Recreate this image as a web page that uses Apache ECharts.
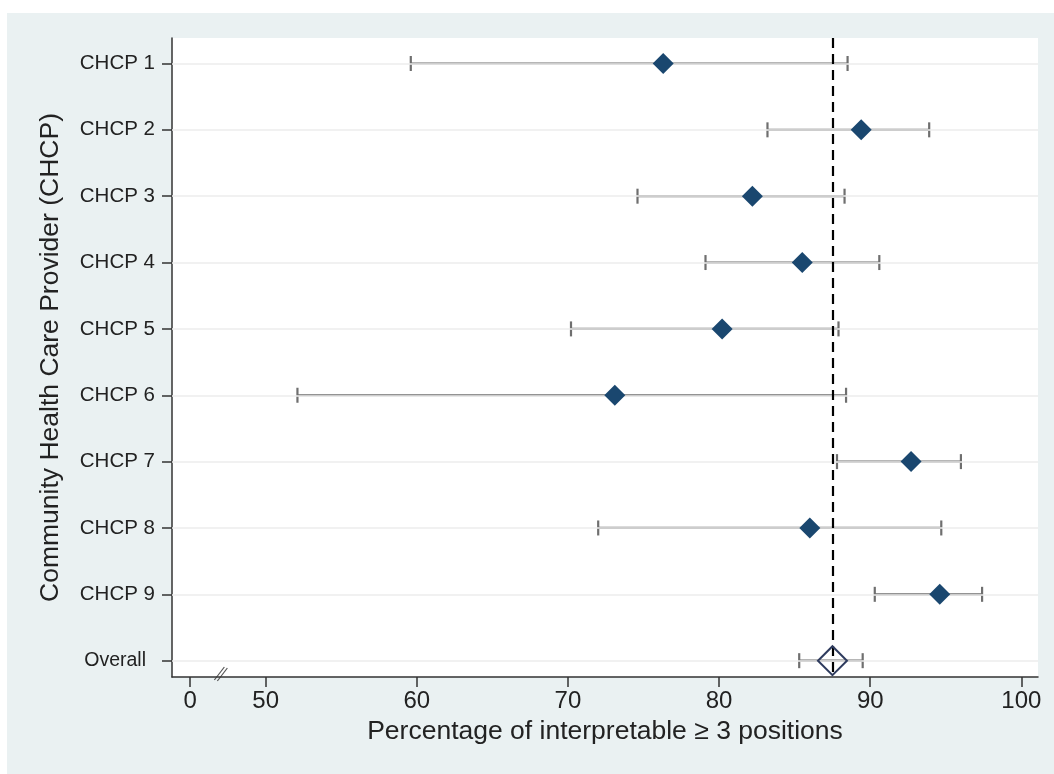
<!DOCTYPE html>
<html>
<head>
<meta charset="utf-8">
<script src="https://cdn.jsdelivr.net/npm/echarts@6/dist/echarts.min.js"></script>
<style>
  html, body { margin: 0; padding: 0; background: #fff; }
  #chart { width: 1054px; height: 774px; }
</style>
</head>
<body>
<div id="chart"></div>
<script>
// providers, top to bottom
const categories = ['CHCP 1', 'CHCP 2', 'CHCP 3', 'CHCP 4', 'CHCP 5', 'CHCP 6', 'CHCP 7', 'CHCP 8', 'CHCP 9', 'Overall'];
const estimates = [76.3, 89.4, 82.2, 85.5, 80.2, 73.1, 92.7, 86.0, 94.6, 87.5];
const lower = [59.6, 83.2, 74.6, 79.1, 70.2, 52.1, 87.8, 72.0, 90.3, 85.3];
const upper = [88.5, 93.9, 88.3, 90.6, 87.9, 88.4, 96.0, 94.7, 97.4, 89.5];
const pooled = 87.5;

// broken x axis: "0" sits just left of the break
const xTickValues = [45, 50, 60, 70, 80, 90, 100];
const xTickLabels = ['0', '50', '60', '70', '80', '90', '100'];
const breakAt = 47;

const rows = categories.map((c, i) => i + 1);
const nProv = categories.length - 1;

const chart = echarts.init(document.getElementById('chart'));

const textColor = '#222';
const navy = '#1a476f';

const option = {
  backgroundColor: '#fff',
  animation: false,
  textStyle: { fontFamily: 'Liberation Sans, Arial, sans-serif' },
  graphic: [{
    type: 'rect', z: -10, silent: true,
    shape: { x: 7, y: 13, width: 1047, height: 761 },
    style: { fill: '#eaf1f2' }
  }],
  grid: {
    left: 172, right: 16, top: 38, bottom: 97,
    show: true, backgroundColor: '#fff', borderWidth: 0
  },
  xAxis: {
    type: 'value', min: 43.8, max: 101.1,
    name: 'Percentage of interpretable \u2265 3 positions',
    nameLocation: 'middle', nameGap: 41,
    nameTextStyle: { fontSize: 26.5, color: textColor },
    axisLine: { lineStyle: { color: '#333', width: 1.5 } },
    axisTick: { customValues: xTickValues, length: 10, lineStyle: { color: '#333', width: 1.5 } },
    axisLabel: {
      customValues: xTickValues, fontSize: 24, color: textColor, margin: 12,
      formatter: v => xTickLabels[xTickValues.indexOf(v)]
    },
    splitLine: { show: false }
  },
  yAxis: {
    type: 'value', inverse: true, min: 0.616, max: 10.246,
    name: 'Community Health Care Provider (CHCP)',
    nameLocation: 'middle', nameGap: 108, nameRotate: 90,
    nameTextStyle: { fontSize: 26.5, color: textColor },
    axisLine: { lineStyle: { color: '#333', width: 1.5 } },
    axisTick: { customValues: rows, length: 10, lineStyle: { color: '#333', width: 1.5 } },
    axisLabel: {
      customValues: rows, fontSize: 20.5, color: textColor, margin: 17,
      formatter: v => (v === rows.length ? '{o|' + categories[v - 1] + '}' : categories[v - 1]),
      rich: { o: { fontSize: 19.5, color: textColor, padding: [0, 9, 0, 0] } }
    },
    splitLine: { show: false }
  },
  series: [
    {
      // row gridlines
      type: 'scatter', data: [], silent: true, z: 1,
      markLine: {
        silent: true, symbol: 'none', label: { show: false },
        lineStyle: { color: '#ececec', width: 1.5, type: 'solid' },
        data: rows.map(r => ({ yAxis: r }))
      }
    },
    {
      type: 'custom', z: 3,
      data: categories.map((c, i) => [rows[i], lower[i], upper[i]]),
      renderItem: (params, api) => {
        const y = api.value(0);
        const a = api.coord([api.value(1), y]);
        const b = api.coord([api.value(2), y]);
        const h = 7.5;
        const st = { stroke: '#6f6f6f', lineWidth: 2.2 };
        return {
          type: 'group',
          children: [
            { type: 'line', shape: { x1: a[0], y1: a[1], x2: b[0], y2: b[1] }, style: st },
            { type: 'line', shape: { x1: a[0], y1: a[1] - h, x2: a[0], y2: a[1] + h }, style: st },
            { type: 'line', shape: { x1: b[0], y1: b[1] - h, x2: b[0], y2: b[1] + h }, style: st }
          ]
        };
      }
    },
    {
      // pooled reference line
      type: 'scatter', data: [], silent: true, z: 4,
      markLine: {
        silent: true, symbol: 'none', label: { show: false },
        lineStyle: { color: '#000', width: 2.2, type: [10, 6] },
        data: [{ xAxis: pooled }]
      }
    },
    {
      type: 'scatter', z: 5, symbol: 'diamond', symbolSize: 21,
      itemStyle: { color: navy, opacity: 1 },
      data: estimates.slice(0, nProv).map((v, i) => [v, rows[i]])
    },
    {
      type: 'scatter', z: 5, symbol: 'diamond', symbolSize: 29,
      itemStyle: { color: 'rgba(0,0,0,0)', borderColor: '#2e3b5e', borderWidth: 2, opacity: 1 },
      data: [[estimates[nProv], rows[nProv]]]
    }
  ]
};

chart.setOption(option);

// axis break marks "//"
const bp = chart.convertToPixel({ xAxisIndex: 0, yAxisIndex: 0 }, [breakAt, 10.246]);
chart.setOption({
  graphic: [
    option.graphic[0],
    {
      type: 'group', x: bp[0], y: bp[1] - 3, z: 20, silent: true,
      children: [
        { type: 'line', shape: { x1: -6, y1: 6, x2: 4, y2: -7 }, style: { stroke: '#555', lineWidth: 1.2 } },
        { type: 'line', shape: { x1: -3, y1: 7, x2: 7, y2: -6 }, style: { stroke: '#555', lineWidth: 1.2 } }
      ]
    }
  ]
});
</script>
</body>
</html>
